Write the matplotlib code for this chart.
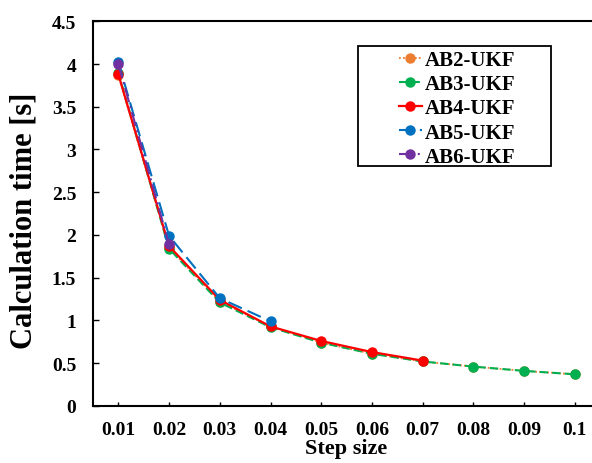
import matplotlib
matplotlib.use("Agg")
import matplotlib.pyplot as plt
from matplotlib.patches import Rectangle

# step sizes (categorical axis)
step_labels = ["0.01", "0.02", "0.03", "0.04", "0.05", "0.06", "0.07", "0.08", "0.09", "0.1"]

# calculation times [s]
ab2 = [3.87, 1.85, 1.22, 0.93, 0.74, 0.61, 0.52, 0.46, 0.41, 0.37]
ab3 = [3.90, 1.84, 1.21, 0.92, 0.74, 0.61, 0.52, 0.46, 0.41, 0.37]
ab4 = [3.88, 1.87, 1.24, 0.93, 0.76, 0.63, 0.53]
ab5 = [4.02, 1.99, 1.26, 0.99]
ab6 = [4.00, 1.89]

plt.rcParams["font.family"] = "Liberation Serif"
plt.rcParams["font.weight"] = "bold"

fig = plt.figure(figsize=(5.92, 4.64), dpi=100)
ax = fig.add_axes([0.157, 0.123, 0.857, 0.829])

x = list(range(1, len(step_labels) + 1))
ms = 6.5
ax.plot(x[:len(ab2)], ab2, color="#ED7D31", linestyle=(0, (1, 1.2)), lw=1.3,
        marker="o", ms=ms, label="AB2-UKF")
ax.plot(x[:len(ab3)], ab3, color="#00B050", linestyle=(0, (4, 2)), lw=1.5,
        marker="o", ms=ms, label="AB3-UKF")
ax.plot(x[:len(ab4)], ab4, color="#FF0000", linestyle="-", lw=1.6,
        marker="o", ms=ms, label="AB4-UKF")
ax.plot(x[:len(ab5)], ab5, color="#0070C0", linestyle=(0, (7, 3)), lw=1.5,
        marker="o", ms=ms, label="AB5-UKF")
ax.plot(x[:len(ab6)], ab6, color="#7030A0", linestyle=(0, (7, 2, 1, 2)), lw=1.5,
        marker="o", ms=ms, label="AB6-UKF")

ax.set_xlim(0.5, 10.5)
ax.set_ylim(0, 4.5)
ax.set_xticks(x)
ax.set_xticklabels(step_labels)
ax.set_yticks([0, 0.5, 1, 1.5, 2, 2.5, 3, 3.5, 4, 4.5])
ax.set_yticklabels(["0", "0.5", "1", "1.5", "2", "2.5", "3", "3.5", "4", "4.5"])
ax.tick_params(axis="both", direction="in", labelsize=14, width=1)
ax.tick_params(axis="y", length=4, pad=12)
ax.tick_params(axis="x", length=3, pad=11)
for s in ax.spines.values():
    s.set_linewidth(1.5)

ax.set_xlabel("Step size", fontsize=16, fontweight="bold", labelpad=0)
ax.set_ylabel("Calculation time [s]", fontsize=22, fontweight="bold")
ax.yaxis.set_label_coords(-0.108, 0.484)

# legend drawn without frame; box added as separate rectangle
leg = ax.legend(loc="upper left", bbox_to_anchor=(0.674, 0.89),
                bbox_transform=fig.transFigure, fontsize=15, frameon=False,
                handlelength=1.1, handletextpad=0.15, borderpad=0,
                labelspacing=0.2, borderaxespad=0)
fig.add_artist(Rectangle((0.6047, 0.6401), 0.326, 0.2586, transform=fig.transFigure,
                         fill=False, edgecolor="black", linewidth=1.3))

fig.savefig("out.png", dpi=100)
